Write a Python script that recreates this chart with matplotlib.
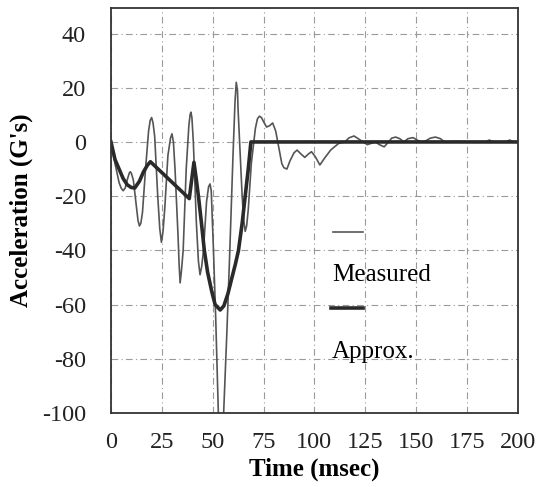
import matplotlib
matplotlib.use("Agg")
import matplotlib.pyplot as plt

# measured acceleration trace
t_meas = [0, 1, 2, 4, 5, 6, 7, 8, 9, 9.5, 10, 11, 12.5, 13.3, 14, 14.7, 15.5, 17, 18.5,
          19.3, 20, 20.7, 21.5, 23, 24, 24.8, 25.6, 26.5, 28, 29.3, 30, 30.7, 31.5, 33,
          33.5, 34, 34.6, 35.5, 37, 38.3, 38.9, 39.3, 39.8, 40.5, 42, 43, 43.8, 44.6,
          45.5, 47, 48, 48.7, 49.3, 50.4, 51.5, 52.8, 54, 55.4, 57, 58.3, 60, 61,
          61.6, 62.2, 62.5, 64.5, 65.3, 66, 66.7, 67.5, 69, 71, 72, 73, 74, 75, 76.5,
          78, 79.5, 81, 83, 84, 85, 86.5, 88, 90, 91.5, 93.5, 95.3, 97, 98.6, 100.5,
          102.7, 105, 108, 112, 115, 117, 119.5, 122, 124, 126, 130, 132, 134.3, 136.5,
          138, 140, 142, 144, 146, 148.5, 151, 153, 155, 157, 159.5, 162, 164, 170,
          175, 184, 186, 188, 194, 196, 198, 200]
v_meas = [0, -4, -8, -15, -17, -18, -17, -14, -11.5, -11, -11.5, -14, -24, -29, -31, -30,
          -26, -10, 4, 8, 9, 7, 2, -20, -32, -37, -33, -24, -5, 1.5, 3, 0, -10, -35,
          -45, -52, -48, -40, -10, 6, 10, 11, 9, 0, -30, -44, -49, -46, -40, -22, -16.5,
          -15.5, -18, -40, -65, -100, -115, -100, -70, -43, -5, 15, 22, 19, 12, -20, -29,
          -33, -31, -25, -8, 5, 8.5, 9.5, 9, 7.5, 5.5, 6, 7, 4, -4, -8, -9.5, -10, -7,
          -4, -3, -4.5, -5.7, -4.5, -3.6, -5.5, -8.5, -6, -3, -0.5, 0, 1.5, 2.2, 1, 0,
          -1, 0, -1, -1.8, 0, 1.4, 1.8, 1.2, 0, 1.2, 1.6, 0.5, 0, 0.5, 1.4, 1.8, 1.2,
          0, 0.2, 0, 0, 0.7, 0, 0, 0.7, 0, 0]

# approximation curve
t_appr = [0, 2, 4, 6, 8, 10, 11.7, 14, 16, 18, 19.4, 38.5, 40.8, 42, 43, 44.5,
          45.9, 47.5, 49.5, 51.2, 53.7, 55.5, 57.5, 59.5, 61.2, 62.7, 64.5, 66,
          67.5, 68.8, 200]
v_appr = [0, -6.5, -10, -13.5, -15.8, -16.8, -17, -14.5, -11, -8.5, -7.3, -20.9,
          -7.5, -14, -20, -30, -40, -48, -55, -60, -62, -60.5, -56, -50, -45, -40,
          -30, -20, -10, 0, 0]

xticks = [0, 25, 50, 75, 100, 125, 150, 175, 200]
yticks = [-100, -80, -60, -40, -20, 0, 20, 40]

plt.rcParams['font.family'] = ['Liberation Serif', 'DejaVu Serif']
plt.rcParams['axes.unicode_minus'] = False

fig = plt.figure(figsize=(5.36, 4.87), dpi=100)
ax = fig.add_axes([0.207, 0.152, 0.759, 0.832])

ax.plot(t_meas, v_meas, color='#555555', linewidth=1.2)
ax.plot(t_appr, v_appr, color='#2a2a2a', linewidth=2.6)

ax.set_xlim(0, 200)
ax.set_ylim(-100, 49.5)
ax.set_xticks(xticks)
ax.set_yticks(yticks)
ax.tick_params(length=0, labelsize=17.5, colors='#222222')
ax.tick_params(axis='y', pad=18)
ax.tick_params(axis='x', pad=14)
ax.grid(True, color='#9a9a9a', linewidth=0.8, linestyle=(0, (6, 3, 1, 3)))
for s in ax.spines.values():
    s.set_color('#333333')
    s.set_linewidth(1.3)

ax.set_xlabel('Time (msec)', fontsize=18, fontweight='bold', labelpad=3)
ax.set_ylabel("Acceleration (G's)", fontsize=18, fontweight='bold', labelpad=6)

# legend: line sample above each label
ax.plot([0.545, 0.619], [0.447, 0.447], transform=ax.transAxes, color='#555555', linewidth=1.2)
ax.text(0.543, 0.341, 'Measured', transform=ax.transAxes, fontsize=18, va='center', ha='left')
ax.plot([0.54, 0.619], [0.259, 0.259], transform=ax.transAxes, color='#2a2a2a', linewidth=2.6)
ax.text(0.543, 0.151, 'Approx.', transform=ax.transAxes, fontsize=18, va='center', ha='left')

plt.savefig('out.png', dpi=100)
